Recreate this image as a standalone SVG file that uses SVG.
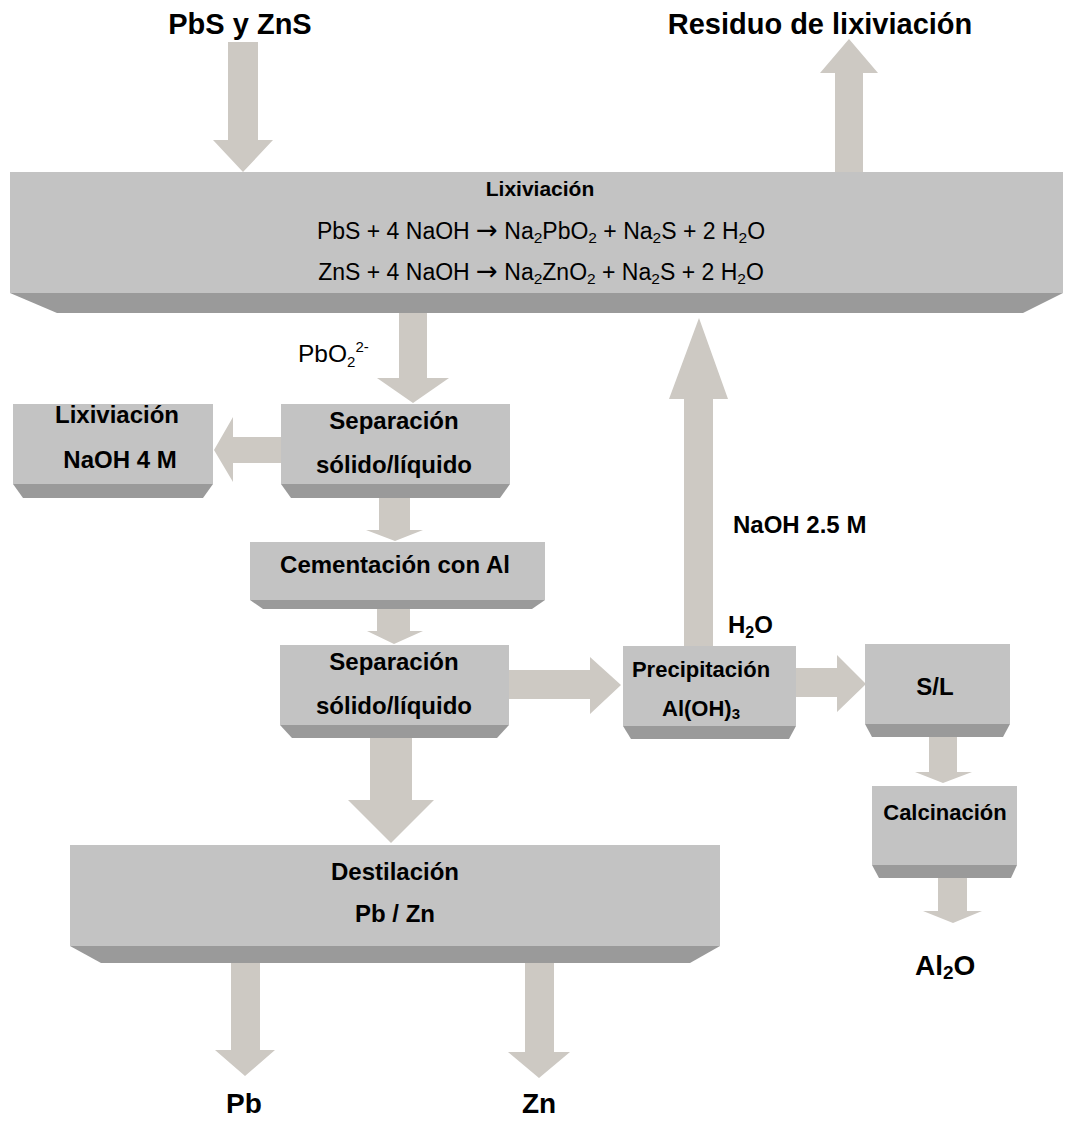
<svg xmlns="http://www.w3.org/2000/svg" width="1081" height="1123" viewBox="0 0 1081 1123">
<style>
.face{fill:#C3C3C3}
.bevel{fill:#9A9A9A}
.arrow{fill:#CDC9C3}
text{font-family:"Liberation Sans",Arial,sans-serif;fill:#000}
.b{font-weight:bold}
.m{text-anchor:middle}
.ar{font-family:"DejaVu Sans",sans-serif;font-size:26px}
</style>
<rect width="1081" height="1123" fill="#fff"/>
<g id="connectors">
<polygon class="arrow" points="228,42 258,42 258,140 273,140 243,172 213,140 228,140"/>
<polygon class="arrow" points="835,172 863,172 863,73 878,73 849,39 820,73 835,73"/>
<polygon class="arrow" points="399,313 427,313 427,378 449,378 413,403 377,378 399,378"/>
<polygon class="arrow" points="281,437 281,463 233,463 233,482 214,450 233,417 233,437"/>
<polygon class="arrow" points="379,498 410,498 410,530 423,530 395,541 366,530 379,530"/>
<polygon class="arrow" points="377,609 410,609 410,631 423,631 394,644 367,631 377,631"/>
<polygon class="arrow" points="370,738 412,738 412,800 434,800 391,843 348,800 370,800"/>
<polygon class="arrow" points="509,670 509,699 590,699 590,714 621,685 590,657 590,670"/>
<polygon class="arrow" points="684,646 713,646 713,399 728,399 699,318 669,399 684,399"/>
<polygon class="arrow" points="796,668 796,697 837,697 837,712 866,684 837,655 837,668"/>
<polygon class="arrow" points="929,737 957,737 957,772 972,772 943,783 915,772 929,772"/>
<polygon class="arrow" points="938,878 967,878 967,911 982,911 953,923 923,911 938,911"/>
<polygon class="arrow" points="231,963 260,963 260,1050 275,1050 245,1076 215,1050 231,1050"/>
<polygon class="arrow" points="525,963 554,963 554,1052 570,1052 539,1078 508,1052 525,1052"/>
</g>
<g id="input">
<text class="b m" x="240" y="34" font-size="29">PbS y ZnS</text>
</g>
<g id="residuo">
<text class="b m" x="820" y="34" font-size="29">Residuo de lixiviación</text>
</g>
<g id="lixiviacion">
<rect class="face" x="10" y="172" width="1053" height="121"/>
<polygon class="bevel" points="10,293 1063,293 1023,313 57,313"/>
<text class="b m" x="540" y="196" font-size="21">Lixiviación</text>
<text class="m" x="541" y="239" font-size="23">PbS + 4 NaOH <tspan class="ar">→</tspan> Na<tspan font-size="15.5" dy="4">2</tspan><tspan dy="-4">PbO</tspan><tspan font-size="15.5" dy="4">2</tspan><tspan dy="-4"> + Na</tspan><tspan font-size="15.5" dy="4">2</tspan><tspan dy="-4">S + 2 H</tspan><tspan font-size="15.5" dy="4">2</tspan><tspan dy="-4">O</tspan></text>
<text class="m" x="541" y="280" font-size="23">ZnS + 4 NaOH <tspan class="ar">→</tspan> Na<tspan font-size="15.5" dy="4">2</tspan><tspan dy="-4">ZnO</tspan><tspan font-size="15.5" dy="4">2</tspan><tspan dy="-4"> + Na</tspan><tspan font-size="15.5" dy="4">2</tspan><tspan dy="-4">S + 2 H</tspan><tspan font-size="15.5" dy="4">2</tspan><tspan dy="-4">O</tspan></text>
</g>
<g id="label-pbo2">
<text x="298" y="362" font-size="24.5">PbO<tspan font-size="15" dy="5">2</tspan><tspan font-size="15" dy="-15">2-</tspan></text>
</g>
<g id="lix-naoh">
<rect class="face" x="13" y="404" width="200" height="80"/>
<polygon class="bevel" points="13,484 213,484 203,498 23,498"/>
<text class="b m" x="117" y="423" font-size="24">Lixiviación</text>
<text class="b m" x="120" y="468" font-size="24">NaOH 4 M</text>
</g>
<g id="separacion1">
<rect class="face" x="281" y="404" width="229" height="80"/>
<polygon class="bevel" points="281,484 510,484 500,498 291,498"/>
<text class="b m" x="394" y="429" font-size="24">Separación</text>
<text class="b m" x="394" y="473" font-size="24">sólido/líquido</text>
</g>
<g id="cementacion">
<rect class="face" x="250" y="542" width="295" height="58"/>
<polygon class="bevel" points="250,600 545,600 532,609 263,609"/>
<text class="b m" x="395" y="573" font-size="24">Cementación con Al</text>
</g>
<g id="separacion2">
<rect class="face" x="280" y="645" width="229" height="80"/>
<polygon class="bevel" points="280,725 509,725 497,738 292,738"/>
<text class="b m" x="394" y="670" font-size="24">Separación</text>
<text class="b m" x="394" y="714" font-size="24">sólido/líquido</text>
</g>
<g id="precipitacion">
<rect class="face" x="623" y="646" width="173" height="80"/>
<polygon class="bevel" points="623,726 796,726 789,739 631,739"/>
<text class="b m" x="701" y="677" font-size="22">Precipitación</text>
<text class="b m" x="701" y="716" font-size="22">Al(OH)<tspan font-size="15" dy="3">3</tspan></text>
</g>
<g id="label-naoh">
<text class="b" x="733" y="533" font-size="24">NaOH 2.5 M</text>
<text class="b" x="728" y="633" font-size="24">H<tspan font-size="16" dy="5">2</tspan><tspan dy="-5">O</tspan></text>
</g>
<g id="sl">
<rect class="face" x="865" y="644" width="145" height="80"/>
<polygon class="bevel" points="865,724 1010,724 1003,737 872,737"/>
<text class="b m" x="935" y="695" font-size="24">S/L</text>
</g>
<g id="calcinacion">
<rect class="face" x="872" y="786" width="145" height="79"/>
<polygon class="bevel" points="872,865 1017,865 1011,878 879,878"/>
<text class="b m" x="945" y="820" font-size="22">Calcinación</text>
</g>
<g id="al2o">
<text class="b" x="915" y="975" font-size="28">Al<tspan font-size="19" dy="4">2</tspan><tspan dy="-4">O</tspan></text>
</g>
<g id="destilacion">
<rect class="face" x="70" y="845" width="650" height="101"/>
<polygon class="bevel" points="70,946 720,946 690,963 101,963"/>
<text class="b m" x="395" y="880" font-size="24">Destilación</text>
<text class="b m" x="395" y="922" font-size="24">Pb / Zn</text>
</g>
<g id="pb">
<text class="b m" x="244" y="1113" font-size="28">Pb</text>
</g>
<g id="zn">
<text class="b m" x="539" y="1113" font-size="28">Zn</text>
</g>
</svg>
